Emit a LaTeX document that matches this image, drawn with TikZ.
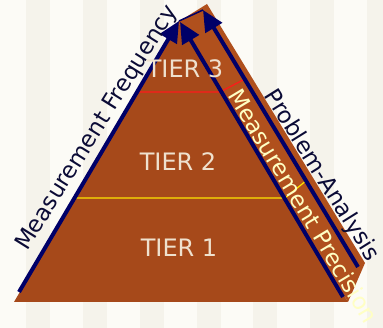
\documentclass[tikz,border=0pt]{standalone}
\usepackage{fontspec}
\setmainfont{DejaVu Sans}
\usetikzlibrary{arrows.meta}
\definecolor{bgA}{HTML}{FCFBF6}
\definecolor{bgB}{HTML}{F5F3EB}
\definecolor{brownF}{HTML}{A6491A}
\definecolor{brownS}{HTML}{B0501D}
\definecolor{navy}{HTML}{000068}
\definecolor{labeldark}{HTML}{0B0B36}
\definecolor{tiertxt}{HTML}{EFE1CE}
\definecolor{precis}{HTML}{FFFFC4}
\definecolor{tierred}{HTML}{FF1A1A}
\definecolor{tieryel}{HTML}{FFE400}
\begin{document}
\begin{tikzpicture}[x=1pt,y=-1pt,
  navyarrow/.style={draw=navy, line width=4pt, -{Triangle[length=21pt,width=19pt]}},
  tierlabel/.style={text=tiertxt, font=\fontsize{24}{28}\selectfont, inner sep=0pt},
  sidelabel/.style={font=\fontsize{23}{28}\selectfont, inner sep=0pt, anchor=base},
]
\useasboundingbox (0,0) rectangle (383,328);
\fill[bgA] (0,0) rectangle (383,328);
\foreach \s in {26,83,140,197,253,310,367} \fill[bgB] (\s,0) rectangle ++(24,328);
% pyramid
\coordinate (BL) at (14,302);
\coordinate (BR) at (348,302);
\coordinate (AP) at (178,22);
\coordinate (TB) at (207,4);
\coordinate (SR) at (365,263);
\fill[brownS] (AP) -- (TB) -- (SR) -- (BR) -- cycle;
\fill[brownF] (BL) -- (AP) -- (BR) -- cycle;
% tier lines
\coordinate (r1) at (137,92);
\coordinate (r2) at (220,92);
\coordinate (r3) at (243,80);
\draw[tierred, line width=1.2pt] (r1) -- (r2) -- (r3);
\coordinate (y1) at (73,198);
\coordinate (y2) at (285,198);
\coordinate (y3) at (307,180);
\draw[tieryel, line width=1.2pt] (y1) -- (y2) -- (y3);
% arrows
\coordinate (a1s) at (19,292);
\coordinate (a1e) at (179,21);
\coordinate (a2s) at (343,297);
\coordinate (a2e) at (180,22);
\coordinate (a3s) at (358,267);
\coordinate (a3e) at (203,10);
\draw[navy, line width=1.5pt] (a1e) -- (a3e);
\draw[navyarrow] (a1s) -- (a1e);
\draw[navyarrow] (a2s) -- (a2e);
\draw[navyarrow] (a3s) -- (a3e);
% tier labels
\node[tierlabel] (t3) at (185,69) {TIER 3};
\node[tierlabel] (t2) at (178,162) {TIER 2};
\node[tierlabel] (t1) at (179,248) {TIER 1};
% side labels
\node[sidelabel, text=labeldark, rotate=58] (mf) at (102.5,131.5) {Measurement Frequency};
\node[sidelabel, text=precis, rotate=-59] (mp) at (296,210) {Measurement Precision};
\node[sidelabel, text=labeldark, rotate=-58] (pa) at (316,179) {Problem-Analysis};
\end{tikzpicture}
\end{document}
